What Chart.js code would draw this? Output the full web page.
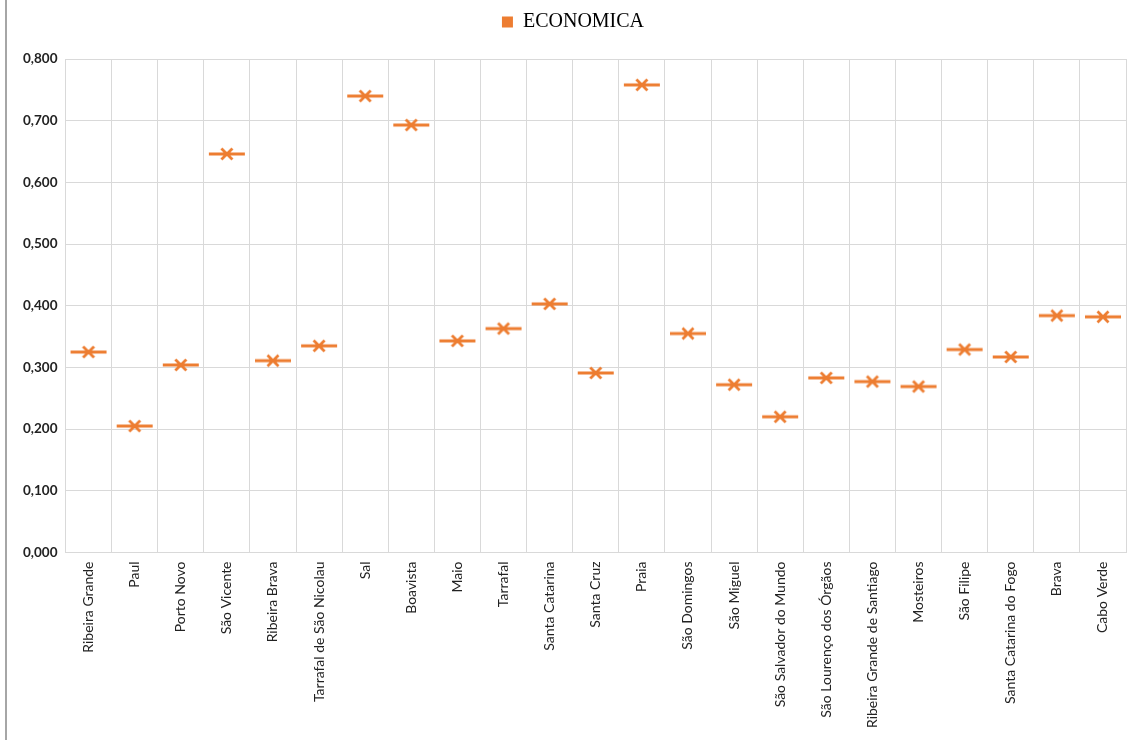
<!DOCTYPE html>
<html>
<head>
<meta charset="utf-8">
<script src="https://cdn.jsdelivr.net/npm/chart.js@4/dist/chart.umd.min.js"></script>
<style>
  body { margin: 0; background: #fff; }
  #wrap { position: relative; width: 1131px; height: 740px; }
  #frame { position: absolute; left: 5px; top: 0; width: 2px; height: 740px; background: #a6a6a6; }
</style>
</head>
<body>
<div id="wrap">
  <div id="frame"></div>
  <canvas id="myChart" width="1131" height="740"></canvas>
</div>
<script>
const categorias = ['Ribeira Grande', 'Paul', 'Porto Novo', 'São Vicente', 'Ribeira Brava',
  'Tarrafal de São Nicolau', 'Sal', 'Boavista', 'Maio', 'Tarrafal', 'Santa Catarina',
  'Santa Cruz', 'Praia', 'São Domingos', 'São Miguel', 'São Salvador do Mundo',
  'São Lourenço dos Órgãos', 'Ribeira Grande de Santiago', 'Mosteiros', 'São Filipe',
  'Santa Catarina do Fogo', 'Brava', 'Cabo Verde'];
const economica = [0.325, 0.205, 0.304, 0.646, 0.311, 0.335, 0.740, 0.693, 0.343, 0.363, 0.403,
  0.291, 0.758, 0.355, 0.272, 0.220, 0.283, 0.277, 0.269, 0.329, 0.317, 0.384, 0.382];
const yTicks = [0, 0.1, 0.2, 0.3, 0.4, 0.5, 0.6, 0.7, 0.8];

const laranja = '#ED7D31';

// marcador: traço horizontal com um x por cima
const marca = document.createElement('canvas');
marca.width = 40; marca.height = 16;
const m = marca.getContext('2d');
m.strokeStyle = laranja;
m.lineWidth = 2.8;
m.beginPath();
m.moveTo(2, 8); m.lineTo(38, 8);
m.moveTo(14.5, 2.5); m.lineTo(25.5, 13.5);
m.moveTo(25.5, 2.5); m.lineTo(14.5, 13.5);
m.stroke();

// espaço extra abaixo da legenda
const espacoLegenda = {
  id: 'espacoLegenda',
  beforeInit(chart) {
    const fitOriginal = chart.legend.fit;
    chart.legend.fit = function() {
      fitOriginal.bind(chart.legend)();
      this.height += 17;
    };
  }
};

const ctx = document.getElementById('myChart');

new Chart(ctx, {
  type: 'line',
  data: {
    labels: categorias,
    datasets: [{
      label: 'ECONOMICA',
      data: economica,
      showLine: false,
      pointStyle: marca,
      backgroundColor: laranja,
      borderColor: laranja
    }]
  },
  plugins: [espacoLegenda],
  options: {
    responsive: false,
    animation: false,
    layout: { padding: { left: 15, right: 0, top: 0, bottom: 3 } },
    plugins: {
      legend: {
        display: true,
        position: 'top',
        labels: {
          boxWidth: 11,
          boxHeight: 11,
          color: '#222',
          font: { family: '"Liberation Serif", serif', size: 20 },
          padding: 12,
          generateLabels: function(chart) {
            return [{ text: 'ECONOMICA', fillStyle: laranja, strokeStyle: laranja, lineWidth: 0, datasetIndex: 0 }];
          }
        }
      },
      tooltip: { enabled: false }
    },
    scales: {
      x: {
        offset: true,
        grid: { offset: true, color: '#d9d9d9', lineWidth: 1, drawTicks: false },
        border: { color: '#d9d9d9' },
        ticks: {
          autoSkip: false,
          maxRotation: 90,
          minRotation: 90,
          padding: 9,
          color: '#222',
          font: { family: 'Lato, "Open Sans", sans-serif', size: 14 }
        }
      },
      y: {
        min: 0,
        max: 0.8,
        afterBuildTicks: function(axis) {
          axis.ticks = yTicks.map(v => ({ value: v }));
        },
        grid: { color: '#d9d9d9', lineWidth: 1, drawTicks: false },
        border: { color: '#d9d9d9' },
        ticks: {
          padding: 8,
          color: '#222',
          font: { family: 'Lato, "Open Sans", sans-serif', size: 13.5, weight: 'bold' },
          callback: function(value) {
            return value.toFixed(3).replace('.', ',');
          }
        }
      }
    }
  }
});
</script>
</body>
</html>
